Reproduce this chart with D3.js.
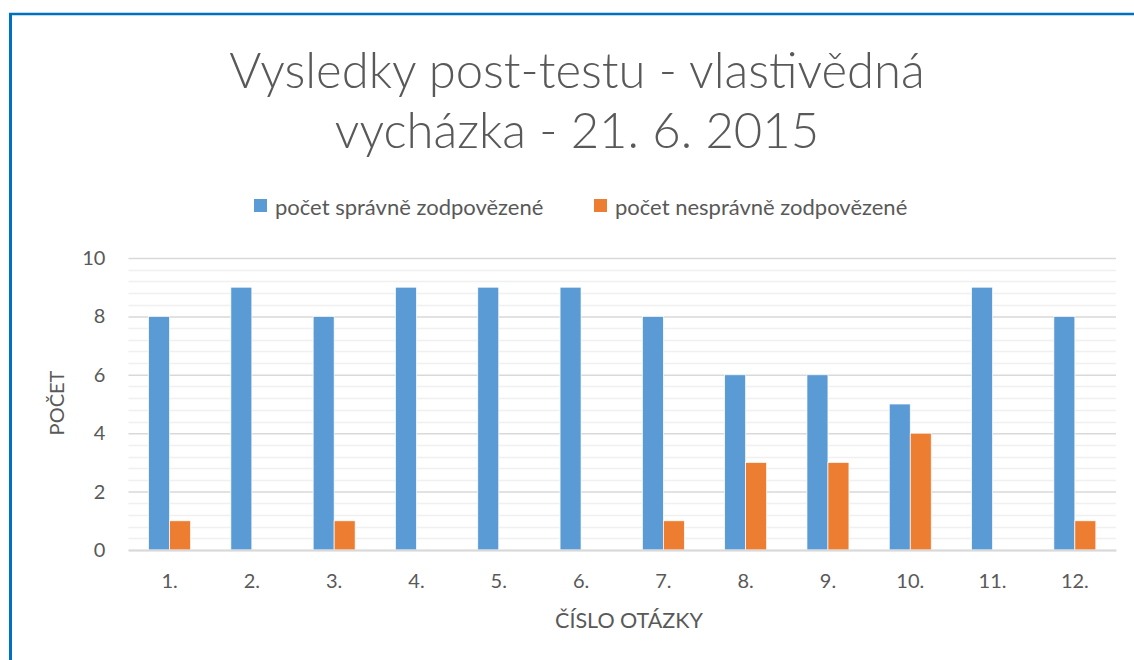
<!DOCTYPE html>
<html><head><meta charset="utf-8">
<script src="https://cdn.jsdelivr.net/npm/d3@7"></script>
<style>
html,body{margin:0;padding:0;background:#fff;}
svg{display:block;font-family:Lato,"Open Sans",sans-serif;}
</style></head>
<body><svg id="c" width="1134" height="660"></svg>
<script>
const categories = ["1.","2.","3.","4.","5.","6.","7.","8.","9.","10.","11.","12."];
const seriesNames = ["počet správně zodpovězené","počet nesprávně zodpovězené"];
const correct = [8,9,8,9,9,9,8,6,6,5,9,8];
const incorrect = [1,0,1,0,0,0,1,3,3,4,0,1];
const yTicks = [0,2,4,6,8,10];
const colors = ["#5b9bd5","#ed7d31"];
const titleLines = ["Vysledky post-testu - vlastivědná","vycházka - 21. 6. 2015"];
const xTitle = "ČÍSLO OTÁZKY";
const yTitle = "POČET";

const svg = d3.select("#c");
const W = 1134, H = 660;
const m = {left:128.4, right:18, top:258, bottom:110};
const pw = W - m.left - m.right, ph = H - m.top - m.bottom;

// frame
svg.append("rect").attr("x",0).attr("y",0).attr("width",W).attr("height",H).attr("fill","#fff");
svg.append("line").attr("x1",9).attr("x2",W).attr("y1",14).attr("y2",14).attr("stroke","#0070c0").attr("stroke-width",2.5);
svg.append("line").attr("x1",10.5).attr("x2",10.5).attr("y1",13).attr("y2",H).attr("stroke","#0070c0").attr("stroke-width",3);

// title
const t = svg.append("text").attr("text-anchor","middle").attr("fill","#595959")
  .style("font-size","49px").style("font-weight",300);
titleLines.forEach((l,i)=>t.append("tspan").attr("x",577).attr("y",88+i*60).text(l));

const g = svg.append("g").attr("transform",`translate(${m.left},${m.top})`);
const y = d3.scaleLinear().domain([0,10]).range([ph,0]);
const x0 = d3.scaleBand().domain(categories).range([0,pw]).paddingInner(0.49).paddingOuter(0.245);
const x1 = d3.scaleBand().domain([0,1]).range([0,x0.bandwidth()]);

// minor gridlines
g.append("g").selectAll("line").data(d3.range(0,10.01,0.4).filter(v=>Math.abs(v/2-Math.round(v/2))>1e-6))
  .join("line").attr("x1",0).attr("x2",pw).attr("y1",d=>Math.round(y(d))+0.5).attr("y2",d=>Math.round(y(d))+0.5)
  .attr("stroke","#f0f0f0").attr("stroke-width",1.5);
// major gridlines
const ya = g.append("g").call(d3.axisLeft(y).tickValues(yTicks).tickSize(-pw).tickPadding(23));
ya.select(".domain").remove();
ya.selectAll(".tick line").attr("stroke","#d9d9d9").attr("stroke-width",1.5);
ya.selectAll(".tick text").attr("fill","#595959").style("font-size","20px").style("font-family","Lato,sans-serif");

// bars
const data = categories.map((c,i)=>({c, v:[correct[i],incorrect[i]]}));
const grp = g.append("g").selectAll("g").data(data).join("g").attr("transform",d=>`translate(${x0(d.c)},0)`);
grp.selectAll("rect").data(d=>d.v.map((v,k)=>({v,k}))).join("rect")
  .attr("x",d=>x1(d.k)).attr("width",x1.bandwidth()).attr("y",d=>y(d.v)).attr("height",d=>y(0)-y(d.v))
  .attr("fill",d=>colors[d.k]).attr("stroke","#fff").attr("stroke-width",0.7);

// x axis
const xa = g.append("g").attr("transform",`translate(0,${ph})`).call(d3.axisBottom(x0).tickSize(0).tickPadding(24));
xa.select(".domain").attr("stroke","#d9d9d9").attr("stroke-width",2);
xa.selectAll(".tick text").attr("fill","#595959").style("font-size","20px").style("font-family","Lato,sans-serif");

// axis titles
svg.append("text").attr("x",629).attr("y",628).attr("text-anchor","middle").attr("fill","#595959")
  .style("font-size","21.5px").text(xTitle);
svg.append("text").attr("transform","translate(64,403) rotate(-90)").attr("text-anchor","middle").attr("fill","#595959")
  .style("font-size","20px").text(yTitle);

// legend
const legX = [254, 594];
seriesNames.forEach((n,i)=>{
  svg.append("rect").attr("x",legX[i]).attr("y",199).attr("width",13).attr("height",13).attr("fill",colors[i]);
  svg.append("text").attr("x",legX[i]+21).attr("y",215).attr("fill","#595959").style("font-size","22px").text(n);
});
</script></body></html>
